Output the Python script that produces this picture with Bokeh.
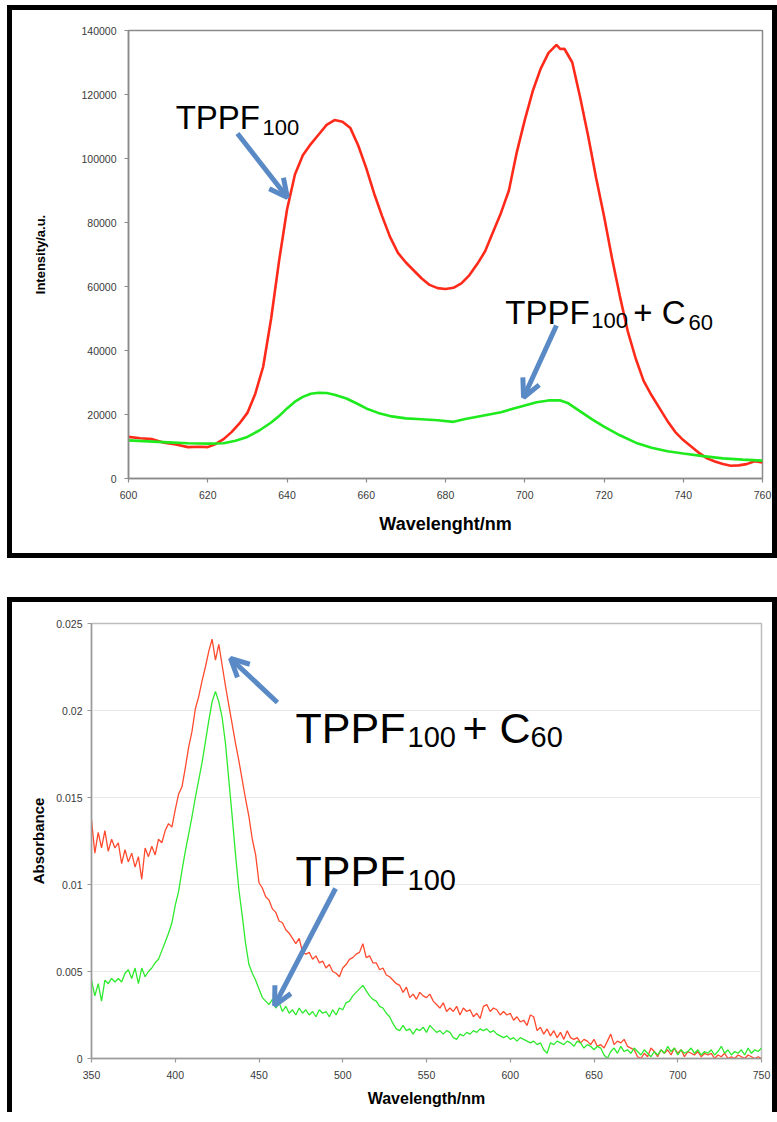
from bokeh.plotting import figure
from bokeh.models import Range1d, Label, Arrow, OpenHead, FixedTicker
from bokeh.embed import file_html
from bokeh.resources import INLINE

# ---------------- data: fluorescence (top) ----------------
fl_x_ticks = [600, 620, 640, 660, 680, 700, 720, 740, 760]
fl_x_labels = ["600", "620", "640", "660", "680", "700", "720", "740", "760"]
fl_y_ticks = [0, 20000, 40000, 60000, 80000, 100000, 120000, 140000]
fl_y_labels = ["0", "20000", "40000", "60000", "80000", "100000", "120000", "140000"]

fl_tppf = [
    (600, 13000), (603, 12600), (606, 12300), (609, 11200), (612, 10600), (615, 9800),
    (618, 9900), (620, 9800), (622, 10800), (624, 12300), (626, 14500), (628, 17200),
    (630, 20500), (632, 26500), (634, 35000), (636, 50000), (638, 68000), (640, 84000),
    (642, 95000), (644, 101000), (646, 104500), (648, 107500), (650, 110500), (652, 112000),
    (654, 111500), (656, 109500), (658, 104000), (660, 97000), (662, 89000), (664, 82000),
    (666, 75500), (668, 70500), (670, 67500), (672, 65000), (674, 62500), (676, 60500),
    (678, 59500), (680, 59200), (682, 59600), (684, 61000), (686, 63500), (688, 67000),
    (690, 71000), (692, 77000), (694, 83000), (696, 90000), (698, 102000), (700, 112000),
    (702, 121000), (704, 128000), (706, 133000), (708, 135500), (709, 134200), (710, 134300),
    (712, 130000), (714, 119000), (716, 107000), (718, 94000), (720, 82000), (722, 69000),
    (724, 57000), (726, 46000), (728, 37500), (730, 30500), (732, 26000), (734, 22000),
    (736, 18000), (738, 14500), (740, 12000), (742, 10000), (744, 8000), (746, 6300),
    (748, 5300), (750, 4500), (752, 4000), (754, 4100), (756, 4500), (758, 5400), (760, 5000),
]
fl_tppf_c60 = [
    (600, 11900), (605, 11600), (610, 11300), (615, 11000), (620, 10900), (624, 11000),
    (627, 11800), (630, 13000), (633, 15000), (636, 17500), (638, 19500), (640, 21900),
    (642, 24000), (644, 25500), (646, 26500), (648, 26800), (650, 26700), (652, 26200),
    (655, 25000), (658, 23200), (660, 21900), (663, 20500), (666, 19500), (670, 18800),
    (674, 18500), (678, 18200), (682, 17700), (685, 18600), (688, 19300), (691, 20000),
    (694, 20700), (697, 21800), (700, 22800), (703, 23800), (706, 24400), (709, 24400),
    (711, 23500), (714, 21000), (717, 18500), (720, 16200), (724, 13500), (728, 11200),
    (732, 9600), (736, 8500), (740, 7800), (745, 7000), (750, 6300), (755, 5900), (760, 5600),
]

# ---------------- data: absorbance (bottom) ----------------
abs_x_ticks = [350, 400, 450, 500, 550, 600, 650, 700, 750]
abs_x_labels = ["350", "400", "450", "500", "550", "600", "650", "700", "750"]
abs_y_ticks = [0, 0.005, 0.01, 0.015, 0.02, 0.025]
abs_y_labels = ["0", "0.005", "0.01", "0.015", "0.02", "0.025"]

abs_wl = list(range(350, 751, 2))
abs_tppf_c60 = [
    0.0137, 0.0118, 0.0130, 0.0121, 0.0131, 0.0119, 0.0126, 0.0121, 0.0124, 0.0112,
    0.0120, 0.0113, 0.0118, 0.0110, 0.0116, 0.0103, 0.0121, 0.0116, 0.0122, 0.0117,
    0.0126, 0.0124, 0.0131, 0.0135, 0.0133, 0.0143, 0.0152, 0.0156, 0.0167, 0.0179,
    0.0188, 0.0201, 0.0208, 0.0217, 0.0225, 0.0234, 0.0241, 0.0229, 0.0238, 0.0226,
    0.0214, 0.0203, 0.0192, 0.0181, 0.0171, 0.0160, 0.0149, 0.0139, 0.0126, 0.0117,
    0.0101, 0.0098, 0.0093, 0.0091, 0.0086, 0.0084, 0.0079, 0.0078, 0.0074, 0.0072,
    0.0069, 0.0066, 0.0069, 0.0061, 0.0060, 0.0061, 0.0057, 0.0059, 0.0055, 0.0056,
    0.0052, 0.0054, 0.0050, 0.0049, 0.0047, 0.0052, 0.0054, 0.0057, 0.0058, 0.0060,
    0.0061, 0.0066, 0.0058, 0.0059, 0.0055, 0.0055, 0.0051, 0.0052, 0.0048, 0.0047,
    0.0045, 0.0043, 0.0042, 0.0038, 0.0041, 0.0035, 0.0037, 0.0034, 0.0038, 0.0036,
    0.0035, 0.0037, 0.0033, 0.0031, 0.0029, 0.0032, 0.0027, 0.0029, 0.0027, 0.0030,
    0.0025, 0.0029, 0.0027, 0.0028, 0.0024, 0.0026, 0.0023, 0.0030, 0.0031, 0.0027,
    0.0029, 0.0028, 0.0025, 0.0027, 0.0025, 0.0026, 0.0022, 0.0024, 0.0021, 0.0022,
    0.0019, 0.0025, 0.0024, 0.0016, 0.0018, 0.0014, 0.0017, 0.0013, 0.0016, 0.0012,
    0.0015, 0.0011, 0.0016, 0.0012, 0.0011, 0.0012, 0.0009, 0.0011, 0.0010, 0.0008,
    0.0011, 0.0007, 0.0008, 0.0006, 0.0010, 0.0014, 0.0008, 0.0010, 0.0009, 0.0011,
    0.0007, 0.0006, 0.0005, 0.0001, 0.0000, 0.0003, 0.0001, 0.0006, 0.0004, 0.0001,
    0.0005, 0.0003, 0.0005, 0.0002, 0.0006, 0.0003, 0.0005, 0.0001, 0.0004, 0.0003,
    0.0002, 0.0004, 0.0001, 0.0003, 0.0002, 0.0003, 0.0000, 0.0002, 0.0001, 0.0003,
    0.0000, 0.0001, 0.0000, 0.0002, 0.0001, 0.0000, 0.0002, 0.0001, 0.0000, 0.0001,
    0.0000,
]
abs_tppf = [
    0.0045, 0.0036, 0.0043, 0.0033, 0.0045, 0.0043, 0.0046, 0.0044, 0.0046, 0.0044,
    0.0049, 0.0051, 0.0046, 0.0052, 0.0043, 0.0052, 0.0047, 0.0050, 0.0052, 0.0055,
    0.0057, 0.0062, 0.0067, 0.0072, 0.0078, 0.0088, 0.0096, 0.0108, 0.0119, 0.0129,
    0.0139, 0.0150, 0.0160, 0.0170, 0.0182, 0.0194, 0.0205, 0.0211, 0.0205, 0.0196,
    0.0181, 0.0160, 0.0139, 0.0117, 0.0097, 0.0082, 0.0066, 0.0054, 0.0049, 0.0045,
    0.0040, 0.0035, 0.0033, 0.0031, 0.0034, 0.0029, 0.0032, 0.0027, 0.0030, 0.0026,
    0.0028, 0.0025, 0.0029, 0.0026, 0.0028, 0.0025, 0.0027, 0.0024, 0.0028, 0.0026,
    0.0027, 0.0024, 0.0028, 0.0025, 0.0029, 0.0028, 0.0032, 0.0033, 0.0036, 0.0038,
    0.0040, 0.0042, 0.0039, 0.0036, 0.0034, 0.0033, 0.0030, 0.0029, 0.0026, 0.0024,
    0.0020, 0.0017, 0.0016, 0.0019, 0.0016, 0.0017, 0.0014, 0.0017, 0.0016, 0.0018,
    0.0015, 0.0019, 0.0017, 0.0015, 0.0016, 0.0014, 0.0016, 0.0015, 0.0012, 0.0011,
    0.0014, 0.0013, 0.0015, 0.0014, 0.0016, 0.0015, 0.0017, 0.0016, 0.0017, 0.0015,
    0.0016, 0.0014, 0.0013, 0.0012, 0.0013, 0.0011, 0.0012, 0.0010, 0.0012, 0.0011,
    0.0010, 0.0009, 0.0010, 0.0008, 0.0009, 0.0005, 0.0003, 0.0009, 0.0008, 0.0010,
    0.0009, 0.0008, 0.0010, 0.0009, 0.0007, 0.0010, 0.0009, 0.0006, 0.0008, 0.0007,
    0.0005, 0.0007, 0.0006, 0.0002, 0.0000, 0.0004, 0.0006, 0.0003, 0.0007, 0.0004,
    0.0005, 0.0003, 0.0006, 0.0004, 0.0002, 0.0005, 0.0003, 0.0001, 0.0004, 0.0002,
    0.0005, 0.0003, 0.0007, 0.0004, 0.0006, 0.0002, 0.0005, 0.0003, 0.0004, 0.0006,
    0.0003, 0.0005, 0.0002, 0.0004, 0.0003, 0.0005, 0.0002, 0.0004, 0.0007, 0.0003,
    0.0005, 0.0002, 0.0004, 0.0003, 0.0005, 0.0002, 0.0006, 0.0003, 0.0005, 0.0004,
    0.0006,
]

FONT = "Liberation Sans"
ARROW_C = "#5a8ac6"
W = 760


def style_axes(p, xt, xl, yt, yl, axis_c, xlab, ylab, xlab_size, ylab_size,
               xstand, ystand, xlstand, ylstand):
    p.xaxis.ticker = FixedTicker(ticks=xt)
    p.yaxis.ticker = FixedTicker(ticks=yt)
    p.xaxis.major_label_overrides = {t: l for t, l in zip(xt, xl)}
    p.yaxis.major_label_overrides = {t: l for t, l in zip(yt, yl)}
    for ax in (p.xaxis[0], p.yaxis[0]):
        ax.axis_line_color = axis_c
        ax.axis_line_width = 1.5
        ax.major_tick_line_color = axis_c
        ax.major_tick_line_width = 1.2
        ax.major_tick_out = 4
        ax.major_tick_in = 0
        ax.minor_tick_line_color = None
        ax.major_label_text_font = FONT
        ax.major_label_text_font_size = "10.5px"
        ax.major_label_text_color = "#3a3a3a"
        ax.axis_label_text_font = FONT
        ax.axis_label_text_font_style = "bold"
        ax.axis_label_text_color = "black"
    p.xaxis.major_label_standoff = xlstand
    p.yaxis.major_label_standoff = ylstand
    p.xaxis.axis_label = xlab
    p.yaxis.axis_label = ylab
    p.xaxis.axis_label_text_font_size = xlab_size
    p.yaxis.axis_label_text_font_size = ylab_size
    p.xaxis.axis_label_standoff = xstand
    p.yaxis.axis_label_standoff = ystand


def add_text(p, x, y, txt, size):
    p.add_layout(Label(x=x, y=y, text=txt, text_font=FONT, text_font_size=size,
                       text_color="black", text_baseline="alphabetic", text_align="left"))


def add_arrow(p, xs, ys, xe, ye):
    p.add_layout(Arrow(end=OpenHead(line_color=ARROW_C, line_width=5, size=18),
                       x_start=xs, y_start=ys, x_end=xe, y_end=ye,
                       line_color=ARROW_C, line_width=5))


FRAME_ALL = "0 0 0 5px black"
FRAME_NO_BOTTOM = ("-5px 0 0 0 black, 5px 0 0 0 black, 0 -5px 0 0 black, "
                   "-5px -5px 0 0 black, 5px -5px 0 0 black")

# ---------------- top figure ----------------
p1 = figure(width=W, height=543, output_backend="svg", toolbar_location=None,
            x_range=Range1d(600, 760), y_range=Range1d(0, 140000),
            min_border_left=116, min_border_right=10, min_border_top=20, min_border_bottom=75)
p1.styles = {"position": "absolute", "left": "12px", "top": "10px",
             "box-shadow": FRAME_ALL}
p1.outline_line_color = "#8a8a8a"
p1.outline_line_width = 1.5
p1.xgrid.visible = False
p1.ygrid.visible = False
style_axes(p1, fl_x_ticks, fl_x_labels, fl_y_ticks, fl_y_labels, "#8a8a8a",
           "Wavelenght/nm", "Intensity/a.u.", "18px", "13px", 12, 30, 8, 8)

p1.line([a for a, b in fl_tppf], [b for a, b in fl_tppf], line_color="#ff2a1a", line_width=2.6)
p1.line([a for a, b in fl_tppf_c60], [b for a, b in fl_tppf_c60], line_color="#1eea1e", line_width=2.6)

add_text(p1, 611.9, 112812, "TPPF", "33px")
add_text(p1, 633.8, 109688, "100", "22px")
add_arrow(p1, 627.5, 107812, 640.1, 87812)

add_text(p1, 695.1, 51875, "TPPF", "33px")
add_text(p1, 716.8, 49375, "100", "22px")
add_text(p1, 727.4, 51875, "+ C", "33px")
add_text(p1, 741.3, 48750, "60", "22px")
add_arrow(p1, 708.0, 47812, 699.7, 25312)

# ---------------- bottom figure ----------------
p2 = figure(width=W, height=510, output_backend="svg", toolbar_location=None,
            x_range=Range1d(350, 750), y_range=Range1d(0, 0.025),
            min_border_left=79, min_border_right=11, min_border_top=21, min_border_bottom=54)
p2.styles = {"position": "absolute", "left": "12px", "top": "602px",
             "box-shadow": FRAME_NO_BOTTOM}
p2.outline_line_color = "#bdbdbd"
p2.outline_line_width = 1.5
p2.xgrid.visible = False
p2.ygrid.grid_line_color = "#e8e8e8"
p2.ygrid.grid_line_width = 1
style_axes(p2, abs_x_ticks, abs_x_labels, abs_y_ticks, abs_y_labels, "#9a9a9a",
           "Wavelength/nm", "Absorbance", "16px", "15px", 8, 6, 8, 5)

p2.line(abs_wl, abs_tppf_c60, line_color="#ff4a2e", line_width=1.3)
p2.line(abs_wl, abs_tppf, line_color="#2eea2e", line_width=1.3)

add_text(p2, 471.8, 0.01902, "TPPF", "43px")
add_text(p2, 538.7, 0.01845, "100", "29px")
add_text(p2, 571.5, 0.01902, "+ C", "43px")
add_text(p2, 612.1, 0.01845, "60", "29px")
add_arrow(p2, 461.0, 0.02046, 433.0, 0.02299)

add_text(p2, 471.8, 0.01080, "TPPF", "43px")
add_text(p2, 538.7, 0.01023, "100", "29px")
add_arrow(p2, 495.7, 0.00977, 459.3, 0.00305)

open("out.html", "w").write(file_html([p1, p2], INLINE))
